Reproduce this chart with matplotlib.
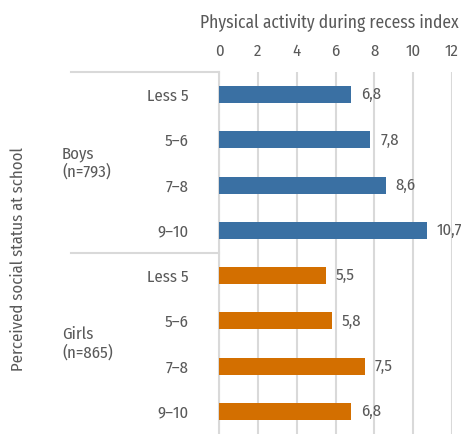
import matplotlib.pyplot as plt
from matplotlib.lines import Line2D
from matplotlib import transforms

plt.rcParams['font.family'] = ['Fira Sans Condensed', 'Roboto Condensed',
                               'Archivo Narrow', 'DejaVu Sans']

categories = ["Less 5", "5\u20136", "7\u20138", "9\u201310"]
boys = [6.8, 7.8, 8.6, 10.7]
girls = [5.5, 5.8, 7.5, 6.8]
groups = ["Boys\n(n=793)", "Girls\n(n=865)"]
xticks = [0, 2, 4, 6, 8, 10, 12]

BLUE = "#3a70a3"
ORANGE = "#d36f00"
TXT = "#595959"
GRID = "#d9d9d9"
FS = 12

W, H = 465, 434
fig = plt.figure(figsize=(W / 100, H / 100), dpi=100)
ax = fig.add_axes([219 / W, 0, (452 - 219) / W, (H - 72) / H])

labels = categories + categories
values = boys + girls
colors = [BLUE] * len(boys) + [ORANGE] * len(girls)
ypos = list(range(len(values)))

ax.barh(ypos, values, height=0.375, color=colors, zorder=3)
for y, v in zip(ypos, values):
    ax.annotate(f"{v:.1f}".replace(".", ","), (v, y), xytext=(7, 0),
                textcoords="offset points", va="center", ha="left",
                fontsize=FS, color=TXT)

ax.set_xlim(0, 12)
ax.set_ylim(len(values) - 0.5, -0.5)
ax.xaxis.tick_top()
ax.xaxis.set_label_position("top")
ax.set_xticks(xticks)
ax.set_xticklabels([str(t) for t in xticks])
ax.set_yticks(ypos)
ax.set_yticklabels(labels)
ax.tick_params(axis="x", length=0, pad=9, labelsize=FS, labelcolor=TXT)
ax.tick_params(axis="y", length=0, pad=22, labelsize=FS, labelcolor=TXT)
ax.set_xlabel("Physical activity during recess index", fontsize=12.6,
              color=TXT)
ax.xaxis.set_label_coords((329.5 - 219) / 233, 1 + (72 - 23) / 362)
ax.xaxis.label.set_va("center")
ax.grid(axis="x", color=GRID, linewidth=1.5, zorder=0)
for s in ["top", "right", "bottom"]:
    ax.spines[s].set_visible(False)
ax.spines["left"].set_color(GRID)
ax.spines["left"].set_linewidth(1.5)

# group labels and separators on the left
tr = transforms.blended_transform_factory(fig.transFigure, ax.transData)
n = len(categories)
for i, g in enumerate(groups):
    ax.text(62 / W, i * n + (n - 1) / 2, g, transform=tr, ha="left",
            va="center", fontsize=FS, color=TXT, linespacing=1.1)
for yl in [-0.5, n - 0.5]:
    ax.add_line(Line2D([71 / W, 219 / W], [yl, yl], transform=tr,
                       color=GRID, linewidth=1.5, clip_on=False))

fig.text(18 / W, 1 - 259 / H, "Perceived social status at school",
         rotation=90, ha="center", va="center", fontsize=FS, color=TXT)

fig.savefig("out.png", dpi=100)
